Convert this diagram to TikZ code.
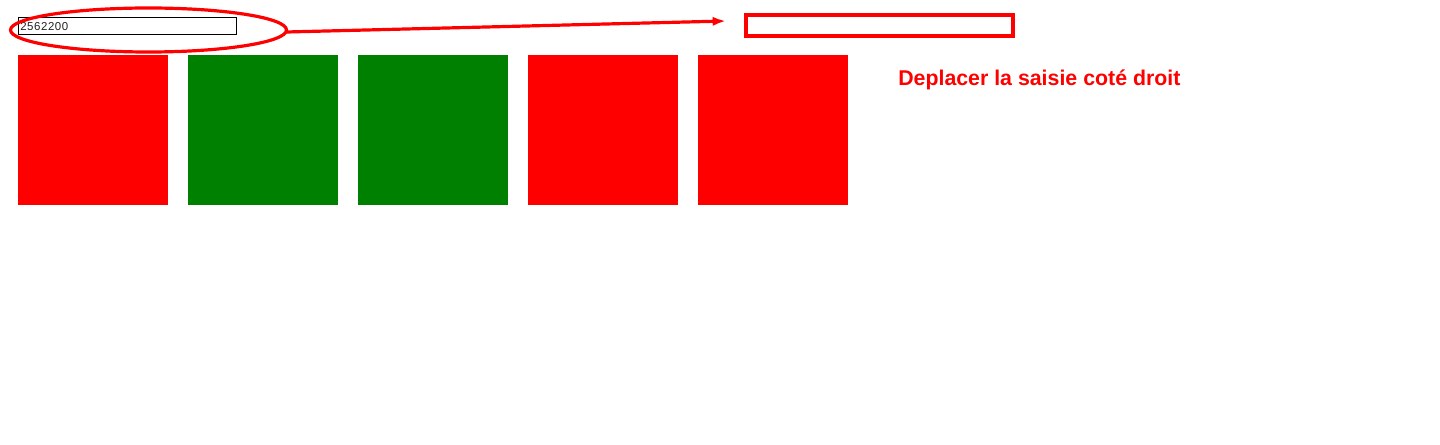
\documentclass[tikz,border=0pt]{standalone}
\usepackage{fontspec}
\setmainfont{Liberation Sans}
\usetikzlibrary{shapes.geometric,arrows.meta}
\definecolor{webred}{HTML}{FF0000}
\definecolor{webgreen}{HTML}{008000}
\definecolor{inputtext}{HTML}{222222}
\tikzset{
  sq/.style={anchor=north west, minimum width=112.5pt, minimum height=112.5pt, inner sep=0pt, outer sep=0pt},
  redsq/.style={sq, fill=webred},
  greensq/.style={sq, fill=webgreen},
  inputbox/.style={anchor=north west, draw=black, line width=0.75pt, minimum width=163.5pt, minimum height=12.75pt, inner sep=0pt, outer sep=0pt},
  mark ring/.style={ellipse, draw=webred, line width=2.4pt, minimum width=207pt, minimum height=33pt, inner sep=0pt, outer sep=0pt},
  target/.style={draw=webred, line width=3pt, minimum width=200.25pt, minimum height=15.75pt, inner sep=0pt, outer sep=0pt},
  pointer/.style={draw=webred, line width=2.4pt, -{Latex[length=10pt,width=7pt]}},
  note/.style={anchor=base west, text=webred, font=\bfseries\fontsize{16pt}{19pt}\selectfont, inner sep=0pt}
}
\begin{document}
\begin{tikzpicture}[x=0.75pt,y=-0.75pt]
\useasboundingbox (0,0) rectangle (1440,445);
\node[inputbox] (input) at (18,18) {};
\node[anchor=base west, inner sep=0pt, text=inputtext, font=\fontsize{8.6pt}{10pt}\selectfont\addfontfeatures{LetterSpace=5}] (val) at (20,30.5) {2562200};
\node[mark ring] (ring) at (148.5,30) {};
\node[target] (target) at (879.5,25.5) {};
\coordinate (tip) at (726,21);
\draw[pointer] ([yshift=-1.5pt]ring.east) -- (tip);
\node[redsq] (s1) at (18,55) {};
\node[greensq] (s2) at (188,55) {};
\node[greensq] (s3) at (358,55) {};
\node[redsq] (s4) at (528,55) {};
\node[redsq] (s5) at (698,55) {};
\node[note] (msg) at (898,86) {Deplacer la saisie coté droit};
\end{tikzpicture}
\end{document}
